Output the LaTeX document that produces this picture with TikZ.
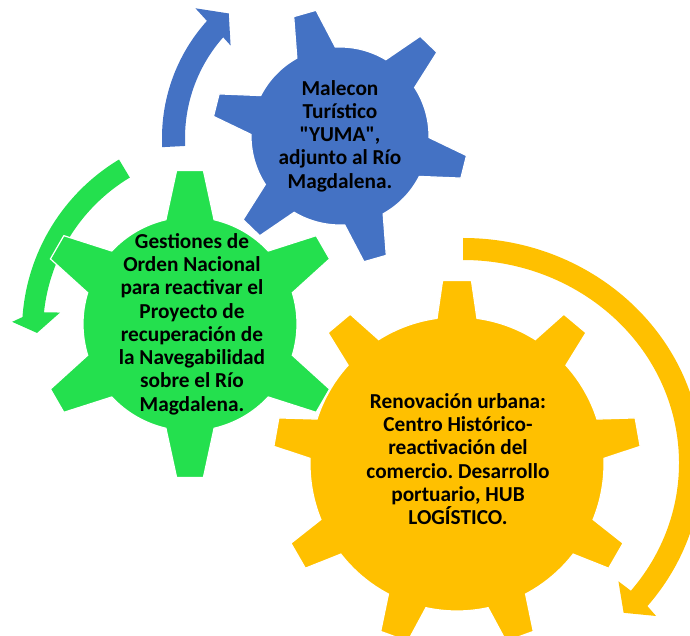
\documentclass[tikz,border=0pt]{standalone}
\usepackage{fontspec}
\setmainfont{Carlito}[Ligatures=TeXOff]
\frenchspacing
\definecolor{gblue}{HTML}{4472C4}
\definecolor{ggreen}{HTML}{24E04E}
\definecolor{gyellow}{HTML}{FFC000}
\newcommand\gearshape[8]{%
\begin{scope}[shift={(#2)}]
\filldraw[#1] ({#4-#7}:#5pt) \foreach \k in {1,...,#3}{ -- ({#4+(\k-1)*360/#3-#8}:#6pt) -- ({#4+(\k-1)*360/#3+#8}:#6pt) -- ({#4+(\k-1)*360/#3+#7}:#5pt) arc[start angle={#4+(\k-1)*360/#3+#7}, end angle={#4+\k*360/#3-#7}, radius=#5pt]} -- cycle;
\end{scope}}
\tikzset{
  gearstyle/.style={draw=white, line width=1.2pt, line join=miter},
  txt/.style={align=center, text=black, font=\fontsize{21.3}{23.3}\selectfont\bfseries, inner sep=0pt}
}
\begin{document}
\begin{tikzpicture}[x=1pt,y=1pt]
\useasboundingbox (0,0) rectangle (690,635);
\clip (0,0) rectangle (690,635);
\coordinate (cY) at (457,171);
\coordinate (cG) at (190,311);
\coordinate (cB) at (340,499);
\coordinate (aY) at (463,172);
\coordinate (aG) at (222,304);
\coordinate (aB) at (337,497);
% arrows
\begin{scope}[shift={(aY)}]
\fill[gyellow] (90:239pt and 225pt) arc[start angle=90, end angle=-39.5, x radius=239pt, y radius=225pt]
  -- (-40:252pt and 238pt) -- (-44.7:226pt and 213pt) -- (-39:200pt and 188pt)
  -- (-39:216pt and 203pt) arc[start angle=-39, end angle=90, x radius=216pt, y radius=203pt] -- cycle;
\end{scope}
\begin{scope}[shift={(aB)}]
\fill[gblue] (183:175pt) arc[start angle=183, end angle=138, radius=175pt]
  -- (137.5:192pt) -- (131:165pt) -- (139:141pt)
  -- (138.5:152pt) arc[start angle=138.5, end angle=183, radius=152pt] -- cycle;
\end{scope}
\begin{scope}[shift={(aG)}]
\fill[ggreen] (121:200pt) arc[start angle=121, end angle=176, radius=200pt]
  -- (177.5:210pt) -- (180.6:185pt) -- (173.5:163pt)
  -- (174:179pt) arc[start angle=174, end angle=121, radius=179pt] -- cycle;
\end{scope}
% gears
\gearshape{gearstyle, fill=gyellow}{cY}{9}{90}{147}{184}{7.8}{4.5}
\gearshape{gearstyle, fill=gblue}{cB}{6}{106}{89}{128}{13}{5.2}
\gearshape{gearstyle, fill=ggreen}{cG}{6}{90}{107}{154}{13}{5}
% texts
\node[txt] (tB) at (340,499) {Malecon\\Turístico\\"YUMA",\\adjunto al Río\\Magdalena.};
\node[txt] (tG) at (192,311) {Gestiones de\\Orden Nacional\\para reactivar el\\Proyecto de\\recuperación de\\la Navegabilidad\\sobre el Río\\Magdalena.};
\node[txt] (tY) at (458,176) {Renovación urbana:\\Centro Histórico-\\reactivación del\\comercio. Desarrollo\\portuario, HUB\\LOGÍSTICO.};
\end{tikzpicture}
\end{document}
